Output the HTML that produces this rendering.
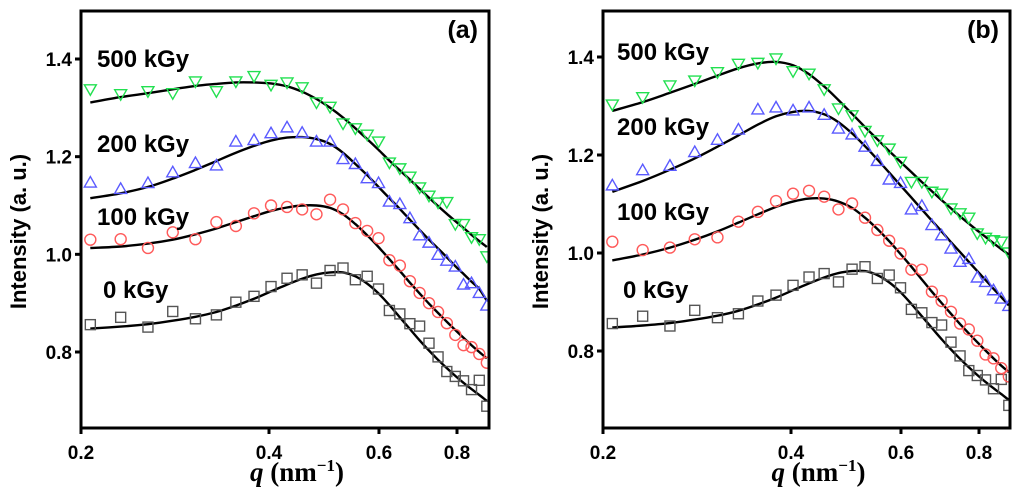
<!DOCTYPE html>
<html><head><meta charset="utf-8"><style>
html,body{margin:0;padding:0;background:#fff;}
svg{display:block;font-family:"Liberation Sans",Arial,sans-serif;}
</style></head><body>
<svg id="chart" width="1024" height="490" viewBox="0 0 1024 490" xmlns="http://www.w3.org/2000/svg"></svg>
<script>
// shared q grid (nm^-1)
const qValues = [0.207,0.2315,0.256,0.2805,0.305,0.3295,0.354,0.3785,0.403,0.4275,0.452,0.4765,0.501,0.5255,0.55,0.5745,0.599,0.6235,0.648,0.6725,0.697,0.7215,0.746,0.7705,0.795,0.8195,0.844,0.8685,0.893];
const xTicks = [0.2,0.4,0.6,0.8];
const xTickLabels = ["0.2","0.4","0.6","0.8"];
const yTicks = [0.8,1.0,1.2,1.4];
const yTickLabels = ["0.8","1.0","1.2","1.4"];
const seriesNames = ["0 kGy","100 kGy","200 kGy","500 kGy"];

// panel (a)
const a0 = [0.856,0.871,0.851,0.883,0.868,0.876,0.902,0.914,0.934,0.951,0.958,0.941,0.967,0.972,0.948,0.955,0.929,0.885,0.878,0.858,0.853,0.818,0.790,0.760,0.750,0.741,0.723,0.742,0.689];
const a0Fit = [0.848,0.852,0.857,0.864,0.872,0.882,0.895,0.909,0.924,0.938,0.950,0.959,0.963,0.963,0.955,0.940,0.920,0.896,0.871,0.847,0.824,0.803,0.784,0.767,0.751,0.737,0.724,0.712,0.700];
const a100 = [1.030,1.031,1.013,1.045,1.031,1.066,1.058,1.084,1.100,1.097,1.092,1.082,1.112,1.092,1.064,1.048,1.033,0.988,0.977,0.945,0.921,0.900,0.882,0.859,0.835,0.814,0.810,0.796,0.778];
const a100Fit = [1.013,1.016,1.022,1.030,1.041,1.053,1.066,1.078,1.089,1.096,1.100,1.100,1.095,1.082,1.062,1.039,1.015,0.990,0.966,0.942,0.920,0.899,0.880,0.862,0.845,0.829,0.814,0.800,0.787];
const a200 = [1.147,1.134,1.146,1.168,1.187,1.182,1.231,1.234,1.248,1.260,1.249,1.231,1.231,1.195,1.185,1.156,1.146,1.108,1.103,1.074,1.039,1.024,0.999,0.987,0.975,0.938,0.941,0.921,0.895];
const a200Fit = [1.115,1.125,1.138,1.155,1.173,1.191,1.208,1.222,1.233,1.239,1.240,1.236,1.226,1.208,1.185,1.162,1.138,1.115,1.093,1.071,1.050,1.030,1.012,0.994,0.976,0.960,0.944,0.929,0.905];
const a500 = [1.338,1.328,1.334,1.330,1.354,1.334,1.354,1.365,1.347,1.352,1.342,1.311,1.302,1.268,1.258,1.245,1.231,1.188,1.176,1.159,1.137,1.120,1.106,1.107,1.062,1.062,1.035,1.031,0.996];
const a500Fit = [1.311,1.322,1.330,1.338,1.345,1.349,1.352,1.352,1.350,1.344,1.333,1.318,1.300,1.280,1.258,1.236,1.214,1.192,1.172,1.153,1.134,1.116,1.099,1.083,1.068,1.054,1.040,1.027,1.015];

// panel (b)
const b0 = [0.856,0.871,0.851,0.883,0.868,0.876,0.902,0.914,0.934,0.951,0.958,0.941,0.967,0.972,0.948,0.955,0.929,0.885,0.878,0.858,0.853,0.818,0.790,0.760,0.750,0.741,0.723,0.742,0.689];
const b0Fit = [0.848,0.852,0.857,0.864,0.872,0.882,0.895,0.909,0.924,0.938,0.950,0.959,0.963,0.963,0.955,0.940,0.920,0.896,0.871,0.847,0.824,0.803,0.784,0.767,0.751,0.737,0.724,0.712,0.700];
const b100 = [1.023,1.006,1.011,1.028,1.032,1.064,1.084,1.106,1.121,1.127,1.115,1.089,1.101,1.072,1.047,1.025,0.999,0.966,0.966,0.921,0.902,0.880,0.856,0.844,0.821,0.793,0.785,0.765,0.748];
const b100Fit = [0.985,0.997,1.011,1.027,1.044,1.062,1.079,1.094,1.105,1.111,1.111,1.105,1.092,1.072,1.049,1.024,0.998,0.972,0.946,0.921,0.898,0.876,0.855,0.836,0.818,0.801,0.785,0.770,0.757];
const b200 = [1.138,1.169,1.178,1.206,1.231,1.252,1.293,1.297,1.291,1.297,1.282,1.254,1.242,1.217,1.188,1.150,1.143,1.089,1.096,1.057,1.036,1.009,0.982,0.988,0.950,0.941,0.924,0.907,0.892];
const b200Fit = [1.125,1.147,1.170,1.193,1.217,1.240,1.262,1.279,1.288,1.290,1.283,1.267,1.244,1.218,1.191,1.164,1.138,1.113,1.089,1.066,1.044,1.022,1.002,0.982,0.963,0.945,0.927,0.910,0.893];
const b500 = [1.303,1.318,1.342,1.352,1.369,1.386,1.388,1.397,1.371,1.366,1.334,1.295,1.281,1.249,1.230,1.213,1.186,1.145,1.145,1.125,1.121,1.091,1.081,1.072,1.040,1.031,1.026,1.023,1.001];
const b500Fit = [1.290,1.308,1.327,1.345,1.362,1.377,1.387,1.390,1.383,1.365,1.340,1.312,1.284,1.257,1.232,1.208,1.186,1.165,1.145,1.126,1.108,1.091,1.075,1.060,1.046,1.033,1.020,1.008,0.997];

const NS = "http://www.w3.org/2000/svg";
const svg = document.getElementById('chart');
function mk(tag, attrs, parent){
  const e = document.createElementNS(NS, tag);
  for (const k in attrs) e.setAttribute(k, attrs[k]);
  (parent||svg).appendChild(e);
  return e;
}
const colors = ["#555555","#ff5a5a","#5a5aff","#22e050"];
const markers = ["square","circle","tri-up","tri-down"];

function drawPanel(id, L, R, T, B, y14, y08, data, fits, labelPos, letter){
  const g = mk('g', {});
  
  
  const xScale = q => L + 188 * Math.log2(q / 0.2);
  const yScale = v => y08 + (v - 0.8) / 0.6 * (y14 - y08);
  const cp = mk('clipPath', {id: 'clip-' + id}, g);
  mk('rect', {x: L, y: T, width: R - L, height: B - T}, cp);
  const plot = mk('g', {'clip-path': 'url(#clip-' + id + ')'}, g);
  
  
  for (let s = 0; s < data.length; s++) {
    const vals = data[s], fit = fits[s], col = colors[s], m = markers[s];
    const pts = fit.map((v, i) => [xScale(qValues[i]), yScale(v)]);
    let d = 'M' + pts[0][0].toFixed(1) + ',' + pts[0][1].toFixed(1);
    for (let i = 0; i < pts.length - 1; i++) {
      const p0 = pts[Math.max(0, i - 1)], p1 = pts[i], p2 = pts[i + 1], p3 = pts[Math.min(pts.length - 1, i + 2)];
      const c1 = [p1[0] + (p2[0] - p0[0]) / 6, p1[1] + (p2[1] - p0[1]) / 6];
      const c2 = [p2[0] - (p3[0] - p1[0]) / 6, p2[1] - (p3[1] - p1[1]) / 6];
      d += 'C' + c1[0].toFixed(1) + ',' + c1[1].toFixed(1) + ' ' + c2[0].toFixed(1) + ',' + c2[1].toFixed(1) + ' ' + p2[0].toFixed(1) + ',' + p2[1].toFixed(1);
    }
    const ln = mk('path', {d: d, fill: 'none', stroke: '#000', 'stroke-width': 2.4}, plot);
    
    
    vals.forEach((v, i) => {
      const x = xScale(qValues[i]), y = yScale(v);
      let e;
      if (m === 'square') e = mk('rect', {x: x - 5, y: y - 5, width: 10, height: 10}, plot);
      else if (m === 'circle') e = mk('circle', {cx: x, cy: y, r: 5.5}, plot);
      else if (m === 'tri-up') e = mk('polygon', {points: (x) + ',' + (y - 6) + ' ' + (x - 6) + ',' + (y + 4.5) + ' ' + (x + 6) + ',' + (y + 4.5)}, plot);
      else e = mk('polygon', {points: (x) + ',' + (y + 6) + ' ' + (x - 6) + ',' + (y - 4.5) + ' ' + (x + 6) + ',' + (y - 4.5)}, plot);
      e.setAttribute('fill', 'none');
      e.setAttribute('stroke', col);
      e.setAttribute('stroke-width', '1.4');
      
      
    });
  }
  const fr = mk('rect', {x: L, y: T, width: R - L, height: B - T, fill: 'none', stroke: '#000', 'stroke-width': 3}, g);
  
  
  xTicks.forEach((t, i) => {
    const x = xScale(t);
    mk('line', {x1: x, y1: B, x2: x, y2: B + 6, stroke: '#000', 'stroke-width': 3}, g);
    const tx = mk('text', {x: x, y: B + 31, 'text-anchor': 'middle', 'font-size': 19, 'font-weight': 'bold'}, g);
    tx.textContent = xTickLabels[i];
    
    
  });
  yTicks.forEach((t, i) => {
    const y = yScale(t);
    mk('line', {x1: L - 6, y1: y, x2: L, y2: y, stroke: '#000', 'stroke-width': 3}, g);
    const tx = mk('text', {x: L - 9, y: y + 7, 'text-anchor': 'end', 'font-size': 19, 'font-weight': 'bold'}, g);
    tx.textContent = yTickLabels[i];
    
    
  });
  const yt = mk('text', {x: 0, y: 0, transform: 'translate(' + (L - 55) + ',' + ((T + B) / 2 + 12) + ') rotate(-90)', 'text-anchor': 'middle', 'font-size': 22, 'font-weight': 'bold'}, g);
  yt.textContent = 'Intensity (a. u.)';
  
  
  const xt = mk('text', {x: (L + R) / 2 + 12, y: 481, 'text-anchor': 'middle', 'font-size': 27, 'font-weight': 'bold', 'font-family': '"Liberation Serif", serif'}, g);
  xt.innerHTML = '<tspan font-style="italic">q</tspan> (nm<tspan dy="-10" font-size="17">\u22121</tspan><tspan dy="10">)</tspan>';
  
  
  labelPos.forEach((p, i) => {
    const t = mk('text', {x: p[0], y: p[1], 'font-size': 24, 'font-weight': 'bold'}, g);
    t.textContent = seriesNames[i];
    
    
  });
  const lt = mk('text', {x: R - 11, y: 38, 'text-anchor': 'end', 'font-size': 25, 'font-weight': 'bold'}, g);
  lt.textContent = letter;
  
  
}

drawPanel('a', 81, 489, 11, 428, 59, 352,
  [a0, a100, a200, a500], [a0Fit, a100Fit, a200Fit, a500Fit],
  [[103, 298], [97, 225], [97, 152], [97, 67]], '(a)');
drawPanel('b', 603, 1010, 11, 428, 57, 351,
  [b0, b100, b200, b500], [b0Fit, b100Fit, b200Fit, b500Fit],
  [[623, 298], [617, 220], [617, 135], [617, 60]], '(b)');
</script>
</body></html>
